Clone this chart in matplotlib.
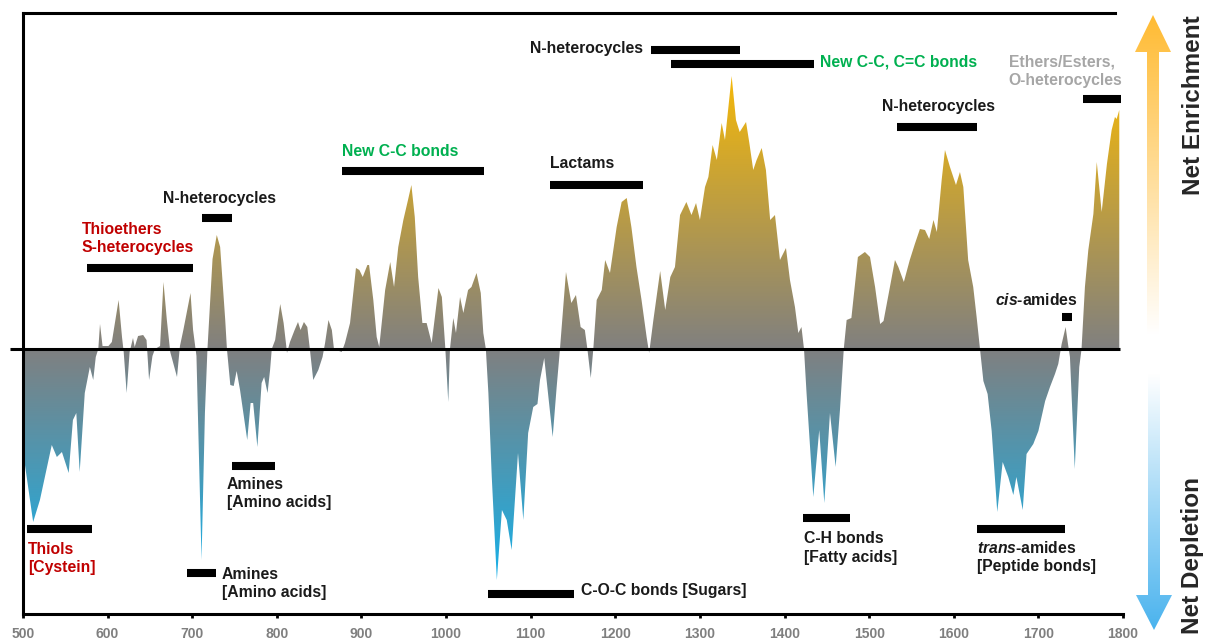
import numpy as np
import matplotlib.pyplot as plt
from matplotlib.colors import LinearSegmentedColormap, TwoSlopeNorm
from matplotlib.patches import Polygon

plt.rcParams["font.family"] = ["Liberation Sans", "DejaVu Sans"]
plt.rcParams["font.weight"] = "bold"
plt.rcParams["mathtext.fontset"] = "custom"
plt.rcParams["mathtext.it"] = "Liberation Sans:italic:bold"
plt.rcParams["mathtext.rm"] = "Liberation Sans:bold"

# difference spectrum (wavenumber in cm-1, net change in arbitrary units)
wavenumber = [
    502, 512, 520, 534, 540, 546, 554, 559, 563, 567, 573, 579, 583, 586, 589,
    591, 594, 601, 605, 613, 617, 619, 622.5, 626, 630, 632, 636, 642, 646, 649,
    653, 656, 662, 666, 670, 674, 682, 685.5, 689.5, 698, 701, 705, 711, 715, 718,
    724, 729, 733, 739, 741, 745, 749, 752.5, 756.5, 765, 769, 772, 777, 782, 785,
    789, 792, 794, 798, 804, 808, 811, 812, 815.5, 821, 825, 828, 832, 836, 839,
    843, 849, 854, 857, 861, 865, 867.5, 876.6, 880.5, 886.5, 893.5, 897.5, 901.5,
    907, 909, 914, 918, 921, 928, 934, 938.5, 943.5, 949.5, 955, 959, 963, 967,
    972, 977, 983, 991, 995, 999, 1002.6, 1004.6, 1008.5, 1011.7, 1016.5, 1020.4,
    1026, 1030, 1036, 1041, 1044, 1047, 1050, 1054, 1060, 1066, 1071.7, 1077.5,
    1085, 1091.3, 1097, 1103, 1108, 1111, 1116, 1126, 1130.7, 1134.6, 1141.7,
    1148, 1153.5, 1159, 1164, 1167, 1171, 1174, 1178, 1184, 1188, 1193.7, 1201.6,
    1207.5, 1213.5, 1219, 1225, 1231, 1237, 1240, 1245, 1253, 1259, 1265, 1270.5,
    1276.5, 1284, 1290, 1295.4, 1300, 1306, 1310, 1315, 1320, 1325.7, 1329.6,
    1337.5, 1342.6, 1347, 1354.5, 1358.4, 1363, 1367, 1373, 1378, 1383, 1388.7,
    1394.6, 1401.7, 1406.4, 1412.3, 1416.3, 1420, 1423, 1426, 1434, 1441, 1447,
    1453.7, 1460.4, 1465.5, 1470, 1473.4, 1479, 1486.7, 1495, 1501, 1507, 1513,
    1517, 1523, 1530.5, 1534.5, 1541, 1548, 1554, 1560, 1566, 1571, 1576, 1580,
    1585.7, 1589.6, 1595.5, 1602.6, 1607.3, 1611.3, 1617, 1623, 1627, 1631, 1635,
    1640, 1644.8, 1651.4, 1657.8, 1664.4, 1670.4, 1674, 1681.5, 1686, 1694, 1700,
    1708, 1713.7, 1719.6, 1723.5, 1727.5, 1732.2, 1735, 1737.3, 1743, 1748.3,
    1751, 1755, 1759, 1765, 1769, 1774.8, 1781, 1786.6, 1790.5, 1792.5, 1795.6,
]
net_change = [
    -114, -173, -151, -96, -108, -103, -124, -71, -64, -123, -44, -18, -31, -8, 0,
    25, 3, 3, 7, 49, 12, -3, -44, -3, 11, 2, 13, 14, 9, -31,
    -7, 0, 3, 67, 29, -3, -28, 3, 19, 56, 19, -7, -211, -64, 0,
    90, 114, 102, 29, 0, -36, -37, -22, -41, -91, -54, -54, -98, -34, -28,
    -44, -21, 0, 9, 45, 26, 4, -4, 7, 19, 27, 19, 27, 22, 0,
    -31, -21, -8, 6, 29, 19, 0, -3, 6, 26, 81, 79, 72,
    84, 84, 49, 12, 2, 59, 87, 62, 102, 129, 149, 164, 132, 72,
    26, 26, 6, 61, 52, 2, -53, 0, 31, 16, 52, 36,
    59, 62, 76, 56, 16, 0, -44, -128, -231, -161, -171, -201,
    -104, -171, -84, -58, -55, -31, -9, -88, -38, 0, 77,
    46, 54, 22, 19, 0, -29, 0, 49, 59, 89, 76, 122,
    147, 151, 122, 82, 49, 12, -4, 29, 78, 39, 72, 82,
    134, 147, 134, 146, 129, 162, 172, 204, 189, 226, 209,
    273, 229, 217, 227, 206, 179, 189, 201, 179, 129, 134,
    89, 101, 69, 42, 16, 22, 0, -44, -148, -81, -154,
    -64, -118, -61, 0, 29, 31, 92, 97, 92, 62, 25,
    28, 55, 89, 82, 67, 89, 105, 120, 119, 110, 129, 117,
    169, 199, 182, 164, 177, 162, 89, 62, 32, 0, -32,
    -45, -82, -163, -113, -128, -146, -128, -161, -105, -95, -82,
    -52, -38, -25, -15, 5, 22, 5, -8, -120, -18,
    0, 62, 99, 135, 187, 137, 185, 219, 232, 230, 239,
]

# assignment bands: wavenumber range and height of each bar
band_start = [576, 711.5, 877, 1123, 1242, 1266, 1533, 1753, 1728,
              505, 747, 694, 1049.6, 1422, 1627.5]
band_end = [701, 747, 1045, 1233, 1347, 1435, 1627, 1798, 1740,
            581.5, 798, 728, 1151, 1477, 1731.5]
band_level = [81, 131, 178, 164, 299, 285, 222, 250, 32,
              -180, -117, -224, -245, -169, -180]

x_ticks = list(range(500, 1801, 100))

RED = "#C00000"
GREEN = "#00B050"
GREY = "#A6A6A6"
INK = "#1A1A1A"

# text, x, y, horizontal alignment, colour
labels = [
    ("Thioethers\nS-heterocycles", 569.7, 110.5, "left", RED),
    ("N-heterocycles", 665.5, 151, "left", INK),
    ("New C-C bonds", 877, 197, "left", GREEN),
    ("Lactams", 1122.8, 185, "left", INK),
    ("N-heterocycles", 1232.7, 300, "right", INK),
    ("New C-C, C=C bonds", 1441.9, 287, "left", GREEN),
    ("N-heterocycles", 1515, 242, "left", INK),
    ("Ethers/Esters,\nO-heterocycles", 1665, 278, "left", GREY),
    (r"$\it{cis}$-amides", 1648.7, 49, "left", INK),
    ("Thiols\n[Cystein]", 506, -209.5, "left", RED),
    ("Amines\n[Amino acids]", 741, -144.5, "left", INK),
    ("Amines\n[Amino acids]", 735, -234.5, "left", INK),
    ("C-O-C bonds [Sugars]", 1159.4, -242, "left", INK),
    ("C-H bonds\n[Fatty acids]", 1423, -199, "left", INK),
    (r"$\it{trans}$-amides" + "\n[Peptide bonds]", 1627.4, -208, "left", INK),
]

fig = plt.figure(figsize=(12.09, 6.42), dpi=100)
ax = fig.add_axes([23 / 1209, 28 / 642, 1100 / 1209, 601 / 642])

wn = np.array(wavenumber, dtype=float)
val = np.array(net_change, dtype=float)

# vertical colour gradient: blue for depletion, gold for enrichment
cmap = LinearSegmentedColormap.from_list("depl_enr", ["#17B0E8", "#808080", "#F4B80A"])
norm = TwoSlopeNorm(vmin=val.min(), vcenter=0, vmax=val.max())
grad = np.linspace(val.min(), val.max(), 600).reshape(-1, 1)
im = ax.imshow(grad, cmap=cmap, norm=norm, origin="lower", aspect="auto",
               extent=[wn[0], wn[-1], val.min(), val.max()],
               interpolation="bilinear", zorder=2)
outline = np.column_stack([np.r_[wn[0], wn, wn[-1]], np.r_[0, val, 0]])
shape = Polygon(outline, closed=True, facecolor="none", edgecolor="none")
ax.add_patch(shape)
im.set_clip_path(shape)

ax.plot([484.6, 1796.5], [0, 0], color="black", lw=2.2,
        solid_capstyle="butt", clip_on=False, zorder=4)

ax.hlines(band_level, band_start, band_end, colors="black",
          linewidth=5.8, capstyle="butt", zorder=5)

for text, x, y, ha, color in labels:
    ax.text(x, y, text, ha=ha, va="center", color=color, fontsize=11.3,
            fontweight="bold", linespacing=1.3, zorder=6)

ax.set_xlim(500, 1800)
ax.set_ylim(-265, 336)
ax.set_xticks(x_ticks)
ax.set_yticks([])
ax.tick_params(axis="x", direction="out", length=3, width=2, color="black",
               labelsize=10, labelcolor="#7F7F7F", pad=6)
for lbl in ax.get_xticklabels():
    lbl.set_fontweight("bold")

ax.spines["right"].set_visible(False)
ax.spines["top"].set_bounds(500, 1790)
for side in ("left", "top", "bottom"):
    ax.spines[side].set_linewidth(2.2)

# side arrows, drawn in pixel space on a transparent overlay
side = fig.add_axes([0, 0, 1, 1], zorder=3)
side.patch.set_alpha(0)

up_arrow = Polygon([(1147, 335), (1147, 52), (1135, 52), (1153, 15),
                    (1171, 52), (1159, 52), (1159, 335)],
                   closed=True, facecolor="none", edgecolor="none")
down_arrow = Polygon([(1148, 373), (1148, 595), (1136, 595), (1154, 630),
                      (1172, 595), (1160, 595), (1160, 373)],
                     closed=True, facecolor="none", edgecolor="none")
ramp = np.linspace(0, 1, 400).reshape(-1, 1)

side.add_patch(up_arrow)
up_img = side.imshow(ramp, cmap=LinearSegmentedColormap.from_list("up", ["#FFBB33", "#FFFFFF"]),
                     origin="upper", aspect="auto", extent=[1135, 1171, 335, 15])
up_img.set_clip_path(up_arrow)

side.add_patch(down_arrow)
down_img = side.imshow(ramp, cmap=LinearSegmentedColormap.from_list("down", ["#FFFFFF", "#4AB3EE"]),
                       origin="upper", aspect="auto", extent=[1136, 1172, 630, 373])
down_img.set_clip_path(down_arrow)

side.text(1193, 105, "Net Enrichment", rotation=90, ha="center", va="center",
          fontsize=17.5, fontweight="bold", color="#262626")
side.text(1193, 555, "Net Depletion", rotation=90, ha="center", va="center",
          fontsize=17.5, fontweight="bold", color="#262626")

side.set_xlim(0, 1209)
side.set_ylim(642, 0)
side.axis("off")

fig.savefig("out.png", dpi=100, facecolor="white")
